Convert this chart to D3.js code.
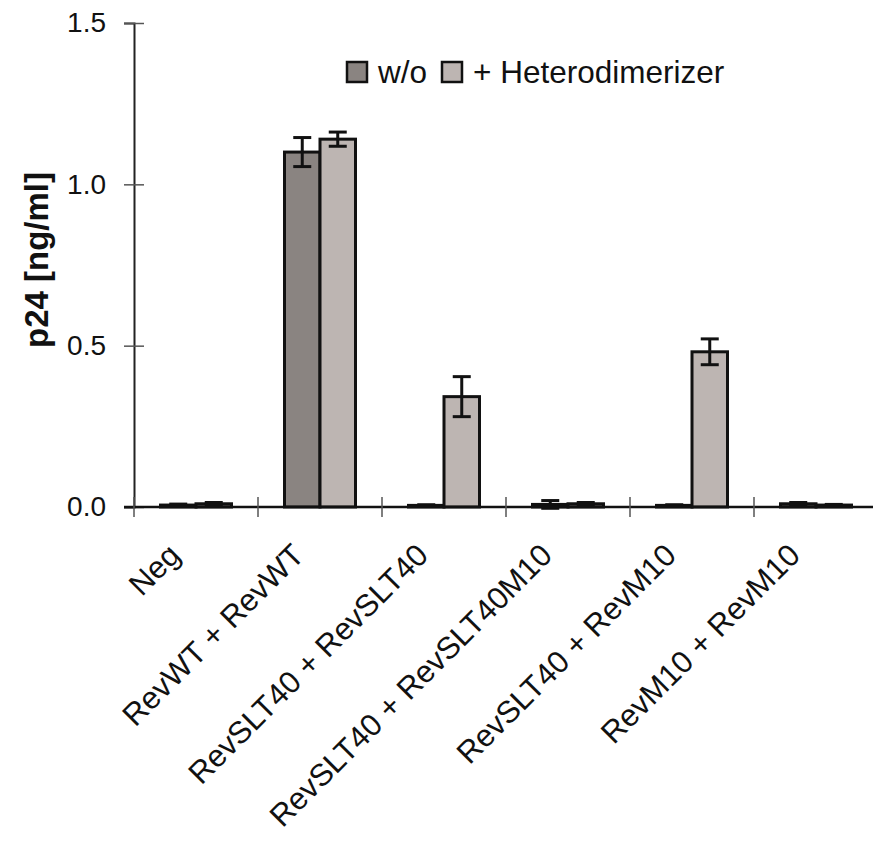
<!DOCTYPE html>
<html><head><meta charset="utf-8">
<script src="https://cdn.jsdelivr.net/npm/d3@7"></script>
<style>body{margin:0;background:#fff}svg{display:block}text{font-family:"Liberation Sans",Arial,sans-serif}</style>
</head><body>
<svg id="chart" width="873" height="841"></svg>
<script>
const categories = ["Neg","RevWT + RevWT","RevSLT40 + RevSLT40","RevSLT40 + RevSLT40M10","RevSLT40 + RevM10","RevM10 + RevM10"];
const seriesNames = ["w/o","+ Heterodimerizer"];
const woValues  = [0.006, 1.10, 0.005, 0.008, 0.005, 0.010];
const woErrors  = [0.003, 0.045, 0.002, 0.012, 0.002, 0.004];
const hetValues = [0.010, 1.14, 0.342, 0.010, 0.481, 0.006];
const hetErrors = [0.004, 0.022, 0.062, 0.004, 0.040, 0.002];
const yTicks = [0, 0.5, 1.0, 1.5];
const yTickLabels = ["0.0","0.5","1.0","1.5"];
const colors = ["#8a8481","#bdb5b2"];

const svg = d3.select("#chart");
const x0 = d3.scaleBand().domain(categories).range([134, 878]).paddingInner(0).paddingOuter(0);
const x1 = d3.scaleBand().domain(seriesNames).range([0, 71]);
const offset = (x0.bandwidth() - 71) / 2;
const y = d3.scaleLinear().domain([0, 1.5]).range([507, 23]);

const rows = categories.map((c, i) => ({
  cat: c,
  vals: [
    {s: seriesNames[0], v: woValues[i], e: woErrors[i], c: colors[0]},
    {s: seriesNames[1], v: hetValues[i], e: hetErrors[i], c: colors[1]}
  ]
}));

// Y axis
const yAxis = svg.append("g").attr("transform", "translate(134,0)")
  .call(d3.axisLeft(y).tickValues(yTicks).tickFormat((d, i) => yTickLabels[i]).tickSize(10).tickPadding(18));
yAxis.select(".domain").attr("stroke", "#222").attr("stroke-width", 2);
yAxis.selectAll(".tick line").attr("stroke", "#555").attr("stroke-width", 1.5).attr("x2", 10).attr("x1", -10);
yAxis.selectAll(".tick text").attr("font-size", 28).attr("fill", "#111");

// Bars
const g = svg.append("g");
const grp = g.selectAll("g.grp").data(rows).join("g").attr("class", "grp")
  .attr("transform", d => `translate(${x0(d.cat) + offset},0)`);
grp.selectAll("rect").data(d => d.vals).join("rect")
  .attr("x", d => x1(d.s)).attr("width", x1.bandwidth())
  .attr("y", d => y(d.v)).attr("height", d => y(0) - y(d.v))
  .attr("fill", d => d.c).attr("stroke", "#111").attr("stroke-width", 3);
// Error bars
const eb = grp.selectAll("g.eb").data(d => d.vals).join("g").attr("class", "eb")
  .attr("transform", d => `translate(${x1(d.s) + x1.bandwidth() / 2},0)`);
eb.append("line").attr("y1", d => y(d.v + d.e)).attr("y2", d => y(d.v - d.e))
  .attr("stroke", "#111").attr("stroke-width", 3);
eb.append("line").attr("x1", -9).attr("x2", 9).attr("y1", d => y(d.v + d.e)).attr("y2", d => y(d.v + d.e))
  .attr("stroke", "#111").attr("stroke-width", 3);
eb.append("line").attr("x1", -9).attr("x2", 9).attr("y1", d => y(d.v - d.e)).attr("y2", d => y(d.v - d.e))
  .attr("stroke", "#111").attr("stroke-width", 3);

// X axis
const xAxisG = svg.append("g");
xAxisG.append("line").attr("x1", 124).attr("x2", 878).attr("y1", y(0)).attr("y2", y(0))
  .attr("stroke", "#111").attr("stroke-width", 2.5);
xAxisG.selectAll("line.tk").data(categories).join("line").attr("class", "tk")
  .attr("x1", d => x0(d)).attr("x2", d => x0(d)).attr("y1", y(0) - 10).attr("y2", y(0) + 10)
  .attr("stroke", "#555").attr("stroke-width", 1.5);
xAxisG.selectAll("text").data(categories).join("text")
  .attr("transform", d => `translate(${x0(d) + x0.bandwidth() / 2 - 14},557) rotate(-45)`)
  .attr("text-anchor", "end").attr("font-size", 31).attr("fill", "#111").text(d => d);

// Y title
svg.append("text").attr("transform", "translate(48,260) rotate(-90)")
  .attr("text-anchor", "middle").attr("font-size", 33).attr("font-weight", "bold").attr("fill", "#111")
  .text("p24 [ng/ml]");

// Legend
const legendX = [347, 442];
const leg = svg.append("g").selectAll("g").data(seriesNames).join("g")
  .attr("transform", (d, i) => `translate(${legendX[i]},62)`);
leg.append("rect").attr("width", 20).attr("height", 20).attr("fill", (d, i) => colors[i])
  .attr("stroke", "#111").attr("stroke-width", 2.5);
leg.append("text").attr("x", 31).attr("y", 21).attr("font-size", 31.5).attr("fill", "#111").text(d => d);
</script>
</body></html>
